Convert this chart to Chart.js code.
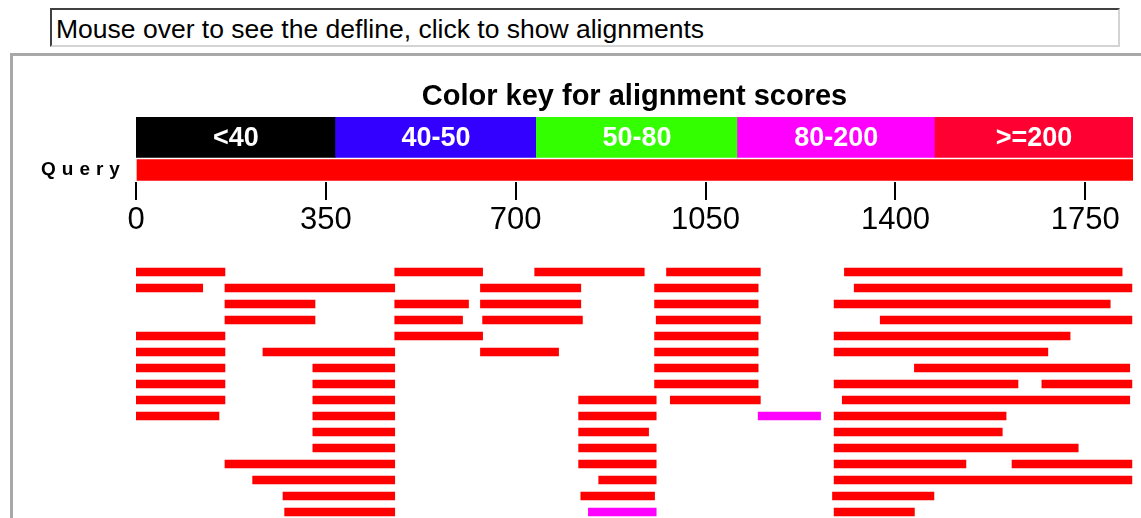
<!DOCTYPE html>
<html>
<head>
<meta charset="utf-8">
<script src="https://cdn.jsdelivr.net/npm/chart.js@4.4.0/dist/chart.umd.min.js"></script>
<style>
  body { margin: 0; background: #fff; overflow: hidden; width: 1141px; height: 518px; position: relative;
         font-family: "Liberation Sans", Arial, sans-serif; }
  #defline { position: absolute; left: 50px; top: 8px; width: 1070px; height: 39px; box-sizing: border-box;
             border-top: 2px solid #404040; border-left: 2px solid #404040;
             border-right: 2px solid #d4d4d4; border-bottom: 2px solid #d4d4d4;
             font-size: 26.5px; line-height: 38px; padding-left: 4px; color: #000; white-space: nowrap; }
  #panel { position: absolute; left: 10px; top: 53px; width: 1200px; height: 600px;
           border-top: 3px solid #a8a8a8; border-left: 3px solid #a8a8a8; }
  canvas { position: absolute; left: 0; }
  #keyChart { top: 78px; }
  #queryChart { top: 150px; }
  #hitChart { top: 264px; }
</style>
</head>
<body>
<div id="defline">Mouse over to see the defline, click to show alignments</div>
<div id="panel"></div>
<canvas id="keyChart" width="1153" height="80"></canvas>
<canvas id="queryChart" width="1153" height="92"></canvas>
<canvas id="hitChart" width="1153" height="256"></canvas>
<script>
// query length and axis ticks
const queryLength = 1838;
const axisTicks = [0, 350, 700, 1050, 1400, 1750];

// color key
const keyLabels = ['<40', '40-50', '50-80', '80-200', '>=200'];
const keyColors = ['#000000', '#3300ff', '#33ff00', '#ff00ff', '#ff0033'];
const keyEdges = [0, 368, 738, 1109, 1473, 1838];

// red hits (score >= 200), one list per row
const redRows = [
  [[0, 164], [477, 639], [735, 937], [978, 1151], [1306, 1818]],
  [[0, 123], [164, 477], [635, 820], [956, 1147], [1324, 1836]],
  [[164, 330], [477, 613], [635, 820], [956, 1147], [1287, 1796]],
  [[164, 330], [477, 602], [639, 823], [959, 1151], [1372, 1836]],
  [[0, 164], [477, 639], [956, 1147], [1287, 1722]],
  [[0, 164], [234, 477], [635, 779], [956, 1147], [1287, 1681]],
  [[0, 164], [326, 477], [956, 1147], [1435, 1832]],
  [[0, 164], [326, 477], [956, 1147], [1287, 1626], [1670, 1836]],
  [[0, 164], [326, 477], [816, 959], [985, 1151], [1302, 1832]],
  [[0, 153], [326, 477], [816, 959], [1287, 1604]],
  [[326, 477], [816, 945], [1287, 1597]],
  [[326, 477], [816, 959], [1287, 1737]],
  [[164, 477], [816, 959], [1287, 1530], [1615, 1836]],
  [[215, 477], [853, 959], [1287, 1836]],
  [[271, 477], [820, 956], [1284, 1471]],
  [[274, 477], [1287, 1435]]
];

// magenta hits (score 80-200): [row, start, end]
const pinkHits = [
  [9, 1147, 1262],
  [15, 834, 959]
];

const rowNames = redRows.map((r, i) => 'hit' + (i + 1));

const sharedX = { type: 'linear', min: 0, max: queryLength, display: false };
const sidePad = { left: 136, right: 20, top: 0, bottom: 0 };

// white labels inside the color key
const keyTextPlugin = {
  id: 'keyText',
  afterDatasetsDraw(chart) {
    const ctx = chart.ctx;
    const bars = chart.getDatasetMeta(0).data;
    ctx.save();
    ctx.fillStyle = '#fff';
    ctx.font = 'bold 27px "Liberation Sans", Arial, sans-serif';
    ctx.textAlign = 'center';
    ctx.textBaseline = 'middle';
    bars.forEach((bar, i) => {
      ctx.fillText(keyLabels[i], (bar.x + bar.base) / 2, bar.y + 1);
    });
    ctx.restore();
  }
};

new Chart(document.getElementById('keyChart'), {
  type: 'bar',
  data: {
    labels: ['key'],
    datasets: [{
      data: keyLabels.map((l, i) => ({ x: [keyEdges[i], keyEdges[i + 1]], y: 'key' })),
      backgroundColor: keyColors,
      barThickness: 40,
      grouped: false
    }]
  },
  options: {
    indexAxis: 'y',
    responsive: false,
    animation: false,
    events: [],
    layout: { padding: sidePad },
    scales: { x: sharedX, y: { display: false } },
    plugins: {
      legend: { display: false },
      tooltip: { enabled: false },
      title: {
        display: true,
        text: 'Color key for alignment scores',
        color: '#000',
        font: { family: '"Liberation Sans", Arial, sans-serif', size: 29, weight: 'bold' },
        padding: { top: 2, bottom: 2 }
      }
    }
  },
  plugins: [keyTextPlugin]
});

// "Query" label, letter spaced, left of the query bar
const queryLabelPlugin = {
  id: 'queryLabel',
  afterDraw(chart) {
    const ctx = chart.ctx;
    const bar = chart.getDatasetMeta(0).data[0];
    ctx.save();
    ctx.letterSpacing = '6px';
    ctx.fillStyle = '#000';
    ctx.font = 'bold 19px "Liberation Sans", Arial, sans-serif';
    ctx.textAlign = 'left';
    ctx.textBaseline = 'middle';
    ctx.fillText('Query', 41, bar.y);
    ctx.restore();
  }
};

new Chart(document.getElementById('queryChart'), {
  type: 'bar',
  data: {
    labels: ['Query'],
    datasets: [{
      data: [[0, queryLength]],
      backgroundColor: '#ff0000',
      barThickness: 21
    }]
  },
  options: {
    indexAxis: 'y',
    responsive: false,
    animation: false,
    events: [],
    layout: { padding: { left: 136, right: 20, top: 8, bottom: 0 } },
    scales: {
      x: {
        type: 'linear',
        min: 0,
        max: queryLength,
        afterBuildTicks: (scale) => { scale.ticks = axisTicks.map(v => ({ value: v })); },
        afterFit: (scale) => { scale.height = 60; },
        border: { display: false },
        grid: { drawOnChartArea: false, color: '#000', lineWidth: 2, tickLength: 18 },
        ticks: {
          color: '#000',
          padding: 2,
          maxRotation: 0,
          autoSkip: false,
          callback: (v) => String(v),
          font: { family: '"Liberation Sans", Arial, sans-serif', size: 31 }
        }
      },
      y: { display: false }
    },
    plugins: { legend: { display: false }, tooltip: { enabled: false } }
  },
  plugins: [queryLabelPlugin]
});

const redData = [];
redRows.forEach((row, i) => row.forEach(seg => redData.push({ x: seg, y: rowNames[i] })));
const pinkData = pinkHits.map(h => ({ x: [h[1], h[2]], y: rowNames[h[0]] }));

new Chart(document.getElementById('hitChart'), {
  type: 'bar',
  data: {
    labels: rowNames,
    datasets: [
      { data: redData, backgroundColor: '#ff0000', barThickness: 8, grouped: false },
      { data: pinkData, backgroundColor: '#ff00ff', barThickness: 8, grouped: false }
    ]
  },
  options: {
    indexAxis: 'y',
    responsive: false,
    animation: false,
    events: [],
    layout: { padding: sidePad },
    scales: { x: sharedX, y: { display: false } },
    plugins: { legend: { display: false }, tooltip: { enabled: false } }
  }
});
</script>
</body>
</html>
